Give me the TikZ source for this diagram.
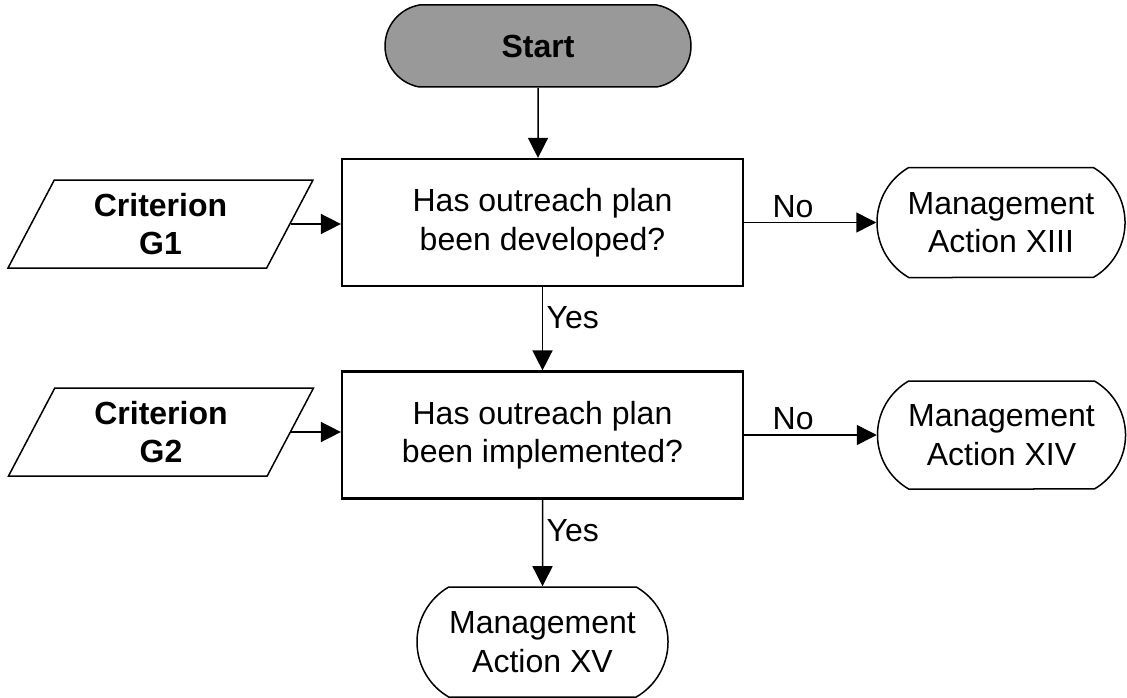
\documentclass[tikz,border=0pt]{standalone}
\usepackage{fontspec}
\setmainfont{Liberation Sans}
\usetikzlibrary{shapes.misc,shapes.geometric,arrows.meta}

\begin{document}
\begin{tikzpicture}[x=1pt,y=-1pt,auto,
  every node/.style={font=\fontsize{32}{38.5}\selectfont},
  arrow/.style={-{Triangle[length=20pt,width=20pt]},line width=1.5pt}]
   \useasboundingbox (0,0) rectangle (1127,698);
   \begin{scope}[every node/.style={rectangle,draw=black,line width=2.2pt,minimum width=401pt,minimum height=127pt,align=center,font=\fontsize{32}{38.5}\selectfont}]
    \node (q1) at (542.5,222.5) {Has outreach plan\\been developed?};
    \node (q2) at (542.5,435) {Has outreach plan\\been implemented?};
   \end{scope}
   \begin{scope}[every node/.style={rounded rectangle,rounded rectangle arc length=120,draw=black,line width=1.5pt,inner sep=0pt,minimum height=110pt,align=center,font=\fontsize{32}{38.5}\selectfont}]
    \node[rounded rectangle arc length=160,fill=black!40,minimum width=306pt,minimum height=82pt,font=\fontsize{32}{38.5}\selectfont\bfseries] (start) at (538,46) {Start};
    \node[minimum width=248pt] (a13) at (1001,222.5) {Management\\Action XIII};
    \node[minimum width=248pt,minimum height=108pt] (a14) at (1001.5,435) {Management\\Action XIV};
    \node[minimum width=251pt] (a15) at (542.5,642) {Management\\Action XV};
   \end{scope}
   \begin{scope}[every node/.style={trapezium,trapezium left angle=56,trapezium right angle=124,trapezium stretches body,draw=black,line width=1.5pt,minimum width=305pt,minimum height=88pt,align=center,font=\fontsize{32}{38.5}\selectfont\bfseries}]
    \node (g1) at (160.5,224) {Criterion\\G1};
    \node (g2) at (161,432) {Criterion\\G2};
   \end{scope}
   \draw[arrow] (start) -- (start |- q1.north);
   \draw[arrow] (g1.east) -- (g1.east -| q1.west);
   \draw[arrow] (g2.east) -- (g2.east -| q2.west);
   \draw (q1) edge[arrow] node[pos=0.37,above,inner sep=4pt]{No} (a13);
   \draw (q2) edge[arrow] node[pos=0.37,above,inner sep=4pt]{No} (a14);
   \draw (q1) edge[arrow] node[pos=0.37,right]{Yes} (q2);
   \draw (q2) edge[arrow] node[pos=0.36,right]{Yes} (a15);
\end{tikzpicture}
\end{document}
